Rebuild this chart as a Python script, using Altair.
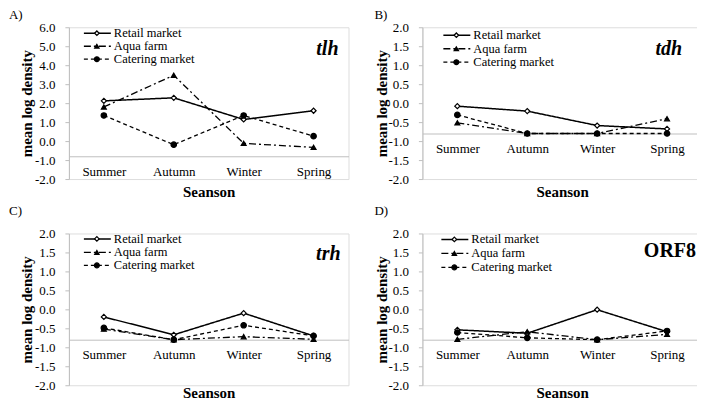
import altair as alt
import pandas as pd

seasons = ["Summer", "Autumn", "Winter", "Spring"]
series = ["Retail market", "Aqua farm", "Catering market"]

# panel A: tlh
tlh_retail = [2.12, 2.28, 1.14, 1.60]
tlh_aqua = [1.80, 3.47, -0.12, -0.33]
tlh_catering = [1.35, -0.19, 1.35, 0.26]
# panel B: tdh
tdh_retail = [-0.08, -0.21, -0.59, -0.68]
tdh_aqua = [-0.52, -0.80, -0.80, -0.41]
tdh_catering = [-0.31, -0.80, -0.80, -0.80]
# panel C: trh
trh_retail = [-0.20, -0.67, -0.10, -0.70]
trh_aqua = [-0.52, -0.80, -0.72, -0.79]
trh_catering = [-0.49, -0.80, -0.42, -0.70]
# panel D: ORF8
orf8_retail = [-0.54, -0.63, -0.01, -0.59]
orf8_aqua = [-0.79, -0.59, -0.80, -0.66]
orf8_catering = [-0.61, -0.75, -0.80, -0.57]

ticks_a = [-2, -1, 0, 1, 2, 3, 4, 5, 6]
ticks_b = [-2, -1.5, -1, -0.5, 0, 0.5, 1, 1.5, 2]
axis_cross = -0.8

FONT = "Liberation Serif"
W, H = 280, 152
styles = {
    "Retail market": dict(dash=[1, 0], shape="diamond", filled=False, width=1.5, size=26),
    "Aqua farm": dict(dash=[7, 3, 2, 3], shape="triangle-up", filled=True, width=1.3, size=24),
    "Catering market": dict(dash=[4, 3], shape="circle", filled=True, width=1.3, size=30),
}


def make_panel(vals, gene, italic, ymin, ymax, ticks, tag, tag_x, tag_y, leg_x, leg_rows,
               lab_right, lab_base, title_top, ytitle_x):
    rows = []
    for s, v in zip(series, vals):
        for season, val in zip(seasons, v):
            rows.append({"season": season, "series": s, "value": val})
    df = pd.DataFrame(rows)
    cross_px = H * (ymax - axis_cross) / (ymax - ymin)
    title_pad = title_top - cross_px - 22
    x_enc = alt.X(
        "season:N",
        sort=seasons,
        scale=alt.Scale(domain=seasons, padding=0.5),
        axis=alt.Axis(
            title="Seanson", labelAngle=0, ticks=False, offset=-(H - cross_px),
            domainColor="#bfbfbf", domainWidth=1, labelPadding=9,
            labelFont=FONT, labelFontSize=13, labelColor="black",
            titleFont=FONT, titleFontSize=15, titleFontWeight="bold", titleColor="black",
            titlePadding=title_pad,
        ),
    )
    y_enc = alt.Y(
        "value:Q",
        scale=alt.Scale(domain=[ymin, ymax], nice=False, zero=False),
        axis=alt.Axis(
            values=ticks, grid=False, tickSize=4, tickColor="#bfbfbf",
            domainColor="#bfbfbf", labelPadding=10,
            labelExpr="(datum.value < 0 ? '-' : '') + format(abs(datum.value), '.1f')",
            labelFont=FONT, labelFontSize=13, labelColor="black",
            title="mean log density", titleFont=FONT, titleFontSize=15,
            titleFontWeight="bold", titleColor="black",
            titleAngle=270, titleBaseline="bottom", titleAlign="center",
            titleX=ytitle_x, titleY=H / 2,
        ),
    )
    layers = []
    for s in series:
        st = styles[s]
        sub = alt.Chart(df[df["series"] == s])
        layers.append(
            sub.mark_line(color="black", strokeWidth=st["width"], strokeDash=st["dash"])
            .encode(x=x_enc, y=y_enc)
        )
    for s in series:
        st = styles[s]
        sub = alt.Chart(df[df["series"] == s])
        layers.append(
            sub.mark_point(
                shape=st["shape"], filled=True,
                fill="white" if not st["filled"] else "black",
                stroke="black", strokeWidth=1.2, size=st["size"], opacity=1,
            ).encode(x=x_enc, y=y_enc)
        )
    # legend
    for s, ry in zip(series, leg_rows):
        st = styles[s]
        one = alt.Chart(pd.DataFrame({"name": [s]}))
        layers.append(
            one.mark_rule(color="black", strokeWidth=st["width"], strokeDash=st["dash"]).encode(
                x=alt.value(leg_x), x2=alt.value(leg_x + 27), y=alt.value(ry)
            )
        )
        layers.append(
            one.mark_point(
                shape=st["shape"], filled=True,
                fill="white" if not st["filled"] else "black",
                stroke="black", strokeWidth=1.2, size=st["size"] * 0.8, opacity=1,
            ).encode(x=alt.value(leg_x + 13), y=alt.value(ry))
        )
        layers.append(
            one.mark_text(align="left", baseline="middle", font=FONT, fontSize=12.5, color="black")
            .encode(x=alt.value(leg_x + 30), y=alt.value(ry), text="name:N")
        )
    # gene label
    layers.append(
        alt.Chart(pd.DataFrame({"g": [gene]}))
        .mark_text(align="right", baseline="alphabetic", font=FONT, fontSize=20,
                   fontWeight="bold", fontStyle="italic" if italic else "normal", color="black")
        .encode(x=alt.value(lab_right), y=alt.value(lab_base), text="g:N")
    )
    # panel tag
    layers.append(
        alt.Chart(pd.DataFrame({"t": [tag]}))
        .mark_text(align="left", baseline="middle", font=FONT, fontSize=13, color="black")
        .encode(x=alt.value(tag_x), y=alt.value(tag_y), text="t:N")
    )
    return alt.layer(*layers).properties(width=W, height=H)


pa = make_panel([tlh_retail, tlh_aqua, tlh_catering], "tlh", True, -2, 6, ticks_a,
                "A)", -60, -12.5, 15, [6, 19, 32], 270, 28, 157, -34.5)
pb = make_panel([tdh_retail, tdh_aqua, tdh_catering], "tdh", True, -2, 2, ticks_b,
                "B)", -48, -12.5, 21, [8, 21.5, 35], 260, 28, 157, -33)
pc = make_panel([trh_retail, trh_aqua, trh_catering], "trh", True, -2, 2, ticks_b,
                "C)", -60, -22, 15, [5.5, 19, 32], 272, 27, 152, -34.5)
pd_ = make_panel([orf8_retail, orf8_aqua, orf8_catering], "ORF8", False, -2, 2, ticks_b,
                 "D)", -48, -22, 19, [6, 20, 34], 274, 24, 152, -33)

chart = (
    alt.vconcat(
        alt.hconcat(pa, pb, spacing=24),
        alt.hconcat(pc, pd_, spacing=24),
        spacing=4.5,
    )
    .properties(padding={"left": 0, "top": 0, "right": -6, "bottom": 0})
    .configure_view(stroke=None)
    .configure(background="white")
)

chart.save("out.html", embed_options={"renderer": "svg", "actions": False})
